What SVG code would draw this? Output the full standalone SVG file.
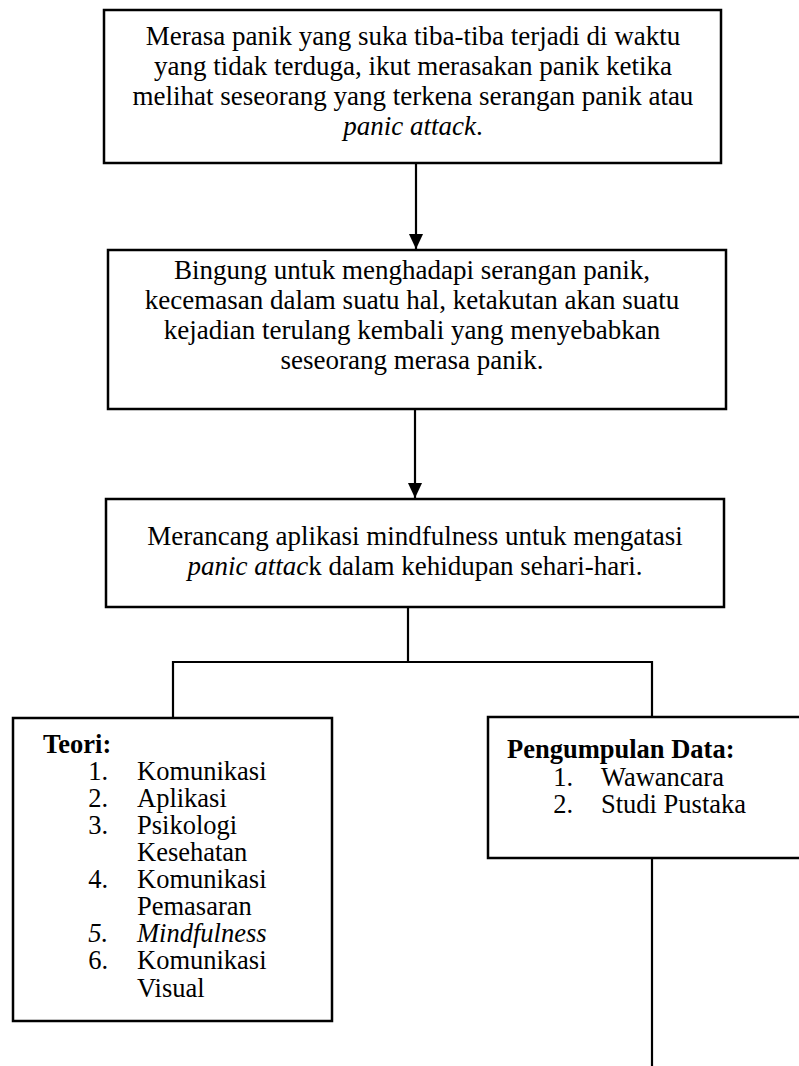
<svg xmlns="http://www.w3.org/2000/svg" width="799" height="1066" viewBox="0 0 799 1066">
<defs>
<style>
.box{fill:#fff;stroke:#000;stroke-width:2.5}
.t{font-family:"Liberation Serif","Times New Roman",serif;font-size:27px;fill:#000}
.s{font-size:26.5px}
.c{text-anchor:middle}
.b{font-weight:bold}
.i{font-style:italic}
.ln{fill:none;stroke:#000;stroke-width:2.2}
</style>
<marker id="ah" viewBox="0 0 16 15" refX="16" refY="7.5" markerWidth="15" markerHeight="16" markerUnits="userSpaceOnUse" orient="auto">
<path d="M0,0 L16,7.5 L0,15 z" fill="#000"/>
</marker>
</defs>
<rect width="799" height="1066" fill="#fff"/>
<g id="connectors">
<line class="ln" x1="416" y1="163" x2="416" y2="249" marker-end="url(#ah)"/>
<line class="ln" x1="415" y1="409" x2="415" y2="498" marker-end="url(#ah)"/>
<polyline class="ln" points="408,607 408,662"/>
<polyline class="ln" points="173,718 173,662 652,662 652,717"/>
<line class="ln" x1="652" y1="858" x2="652" y2="1066"/>
</g>
<g id="node1">
<rect class="box" x="104" y="10" width="617" height="153"/>
<text class="t c" x="413" y="45">Merasa panik yang suka tiba-tiba terjadi di waktu</text>
<text class="t c" x="413" y="75">yang tidak terduga, ikut merasakan panik ketika</text>
<text class="t c" x="413" y="105">melihat seseorang yang terkena serangan panik atau</text>
<text class="t c" x="413" y="135"><tspan class="i">panic attack</tspan>.</text>
</g>
<g id="node2">
<rect class="box" x="108" y="250" width="618" height="159"/>
<text class="t c" x="412" y="279">Bingung untuk menghadapi serangan panik,</text>
<text class="t c" x="412" y="309">kecemasan dalam suatu hal, ketakutan akan suatu</text>
<text class="t c" x="412" y="339">kejadian terulang kembali yang menyebabkan</text>
<text class="t c" x="412" y="369">seseorang merasa panik.</text>
</g>
<g id="node3">
<rect class="box" x="106" y="499" width="618" height="108"/>
<text class="t c" x="415" y="545">Merancang aplikasi mindfulness untuk mengatasi</text>
<text class="t c" x="415" y="575"><tspan class="i">panic attac</tspan>k dalam kehidupan sehari-hari.</text>
</g>
<g id="node4">
<rect class="box" x="13" y="718" width="319" height="303"/>
<text class="t s b" x="43" y="753">Teori:</text>
<g class="t s">
<text x="108" y="780" text-anchor="end">1.</text><text x="137" y="780">Komunikasi</text>
<text x="108" y="807" text-anchor="end">2.</text><text x="137" y="807">Aplikasi</text>
<text x="108" y="834" text-anchor="end">3.</text><text x="137" y="834">Psikologi</text>
<text x="137" y="861">Kesehatan</text>
<text x="108" y="888" text-anchor="end">4.</text><text x="137" y="888">Komunikasi</text>
<text x="137" y="915">Pemasaran</text>
<text x="108" y="942" text-anchor="end" font-style="italic">5.</text><text x="137" y="942" font-style="italic">Mindfulness</text>
<text x="108" y="969" text-anchor="end">6.</text><text x="137" y="969">Komunikasi</text>
<text x="137" y="997">Visual</text>
</g>
</g>
<g id="node5">
<rect class="box" x="488" y="717" width="320" height="141"/>
<text class="t s b" x="507" y="758">Pengumpulan Data:</text>
<g class="t s">
<text x="573" y="786" text-anchor="end">1.</text><text x="601" y="786">Wawancara</text>
<text x="573" y="813" text-anchor="end">2.</text><text x="601" y="813">Studi Pustaka</text>
</g>
</g>
</svg>
